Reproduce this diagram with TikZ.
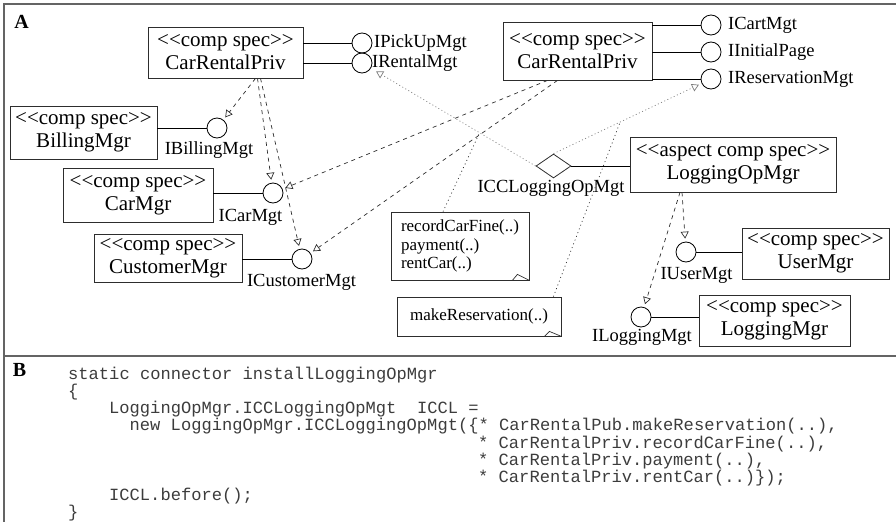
\documentclass[tikz,border=0pt]{standalone}
\usepackage{fontspec}
\setmainfont{Liberation Serif}
\setmonofont{Liberation Mono}
\usetikzlibrary{arrows.meta,shapes.geometric,calc}
\definecolor{umledge}{RGB}{45,45,45}
\definecolor{umlframe}{RGB}{100,100,100}
\definecolor{umlweave}{RGB}{125,125,125}
\definecolor{umlcode}{RGB}{60,60,60}
\tikzset{
  comp/.style={
    draw=umledge, line width=0.8pt, align=center, inner sep=3pt,
    font=\fontsize{21}{23}\selectfont
  },
  iface/.style={circle, draw=black, line width=0.8pt, minimum size=20pt, inner sep=0pt},
  ifname/.style={inner sep=1pt, font=\fontsize{18.5}{20}\selectfont},
  notebox/.style={
    draw=umledge, line width=0.8pt, align=left, inner sep=3pt,
    font=\fontsize{17}{18.5}\selectfont
  },
  wedge/.style={draw=umledge, line width=0.7pt},
  conn/.style={draw=black, line width=0.8pt},
  dep/.style={-{Triangle[open,length=7pt,width=8pt]}, draw=umledge, line width=0.7pt,
    dash pattern=on 4pt off 4pt, shorten >=3pt},
  weave/.style={-{Triangle[open,length=7pt,width=8pt]}, draw=umlweave, line width=0.7pt,
    dash pattern=on 1pt off 2.5pt},
  tieline/.style={draw=umledge, line width=0.7pt, dash pattern=on 1pt off 3pt},
  panel/.style={draw=umlframe, line width=1.5pt},
  tag/.style={inner sep=0pt, font=\fontsize{20}{22}\selectfont\bfseries},
  code/.style={anchor=base west, inner sep=0pt, text=umlcode,
    font=\fontsize{17.1}{19}\selectfont\ttfamily}
}

\begin{document}
\begin{tikzpicture}[x=1pt,y=-1pt]
  \useasboundingbox (0,0) rectangle (896,522);

  % panel frame
  \draw[panel] (896,4) -- (4,4) -- (4,522);
  \draw[panel] (4,356) -- (896,356);
  \node[tag] (tagA) at (21.5,21.5) {A};
  \node[tag] (tagB) at (19.5,370) {B};

  % components
  \node[comp, minimum width=155pt, minimum height=51pt] (crp1) at (225.5,52.5) {<{}<comp spec>{}>\\CarRentalPriv};
  \node[comp, minimum width=147pt, minimum height=53pt] (billing) at (83.5,132.5) {<{}<comp spec>{}>\\BillingMgr};
  \node[comp, minimum width=150pt, minimum height=54pt] (carmgr) at (138,195) {<{}<comp spec>{}>\\CarMgr};
  \node[comp, minimum width=148pt, minimum height=48pt] (custmgr) at (168,258) {<{}<comp spec>{}>\\CustomerMgr};
  \node[comp, minimum width=149pt, minimum height=58pt] (crp2) at (577.5,51) {<{}<comp spec>{}>\\CarRentalPriv};
  \node[comp, minimum width=206pt, minimum height=55pt] (logop) at (733,164.5) {<{}<aspect comp spec>{}>\\LoggingOpMgr};
  \node[comp, minimum width=147pt, minimum height=51pt] (usermgr) at (815.5,253.5) {<{}<comp spec>{}>\\UserMgr};
  \node[comp, minimum width=151pt, minimum height=51pt] (logmgr) at (774.5,320.5) {<{}<comp spec>{}>\\LoggingMgr};

  % interfaces
  \node[iface] (ipick) at (362,43) {};
  \node[iface] (irental) at (362,63) {};
  \node[iface] (ibill) at (217,128) {};
  \node[iface] (icar) at (273,193) {};
  \node[iface] (icust) at (302,259) {};
  \node[iface] (icart) at (711,25) {};
  \node[iface] (iinit) at (711,52) {};
  \node[iface] (ires) at (711,79) {};
  \node[iface] (iuser) at (686,252) {};
  \node[iface] (ilog) at (641,317) {};
  \node[diamond, draw=umledge, line width=0.8pt, minimum width=35pt, minimum height=24pt,
    inner sep=0pt] (icc) at (553.5,166) {};

  \node[ifname, anchor=west] (ipickname) at (373,43) {IPickUpMgt};
  \node[ifname, anchor=west] (irentalname) at (371,63) {IRentalMgt};
  \node[ifname] (ibillname) at (209,150) {IBillingMgt};
  \node[ifname] (icarname) at (250.5,217) {ICarMgt};
  \node[ifname] (icustname) at (301.5,282) {ICustomerMgt};
  \node[ifname, anchor=west] (icartname) at (727,25) {ICartMgt};
  \node[ifname, anchor=west] (iinitname) at (727,52) {IInitialPage};
  \node[ifname, anchor=west] (iresname) at (727,79) {IReservationMgt};
  \node[ifname] (iccname) at (551,188) {ICCLoggingOpMgt};
  \node[ifname] (iusername) at (696.5,275) {IUserMgt};
  \node[ifname] (ilogname) at (642,337) {ILoggingMgt};

  % notes
  \node[notebox, minimum width=138pt, minimum height=68pt] (note1) at (460,246)
    {recordCarFine(..)\\payment(..)\\rentCar(..)};
  \node[notebox, minimum width=164pt, minimum height=39pt] (note2) at (479,316.5)
    {makeReservation(..)};
  \draw[wedge] ($(note1.south east)+(-17,0)$) -- ($(note1.south east)+(-12,-6)$) -- (note1.south east);
  \draw[wedge] ($(note2.south east)+(-17,0)$) -- ($(note2.south east)+(-12,-5)$) -- (note2.south east);

  % provided interfaces
  \draw[conn] (crp1.east |- ipick) -- (ipick);
  \draw[conn] (crp1.east |- irental) -- (irental);
  \draw[conn] (billing.east |- ibill) -- (ibill);
  \draw[conn] (carmgr.east |- icar) -- (icar);
  \draw[conn] (custmgr.east |- icust) -- (icust);
  \draw[conn] (crp2.east |- icart) -- (icart);
  \draw[conn] (crp2.east |- iinit) -- (iinit);
  \draw[conn] (crp2.east |- ires) -- (ires);
  \draw[conn] (iuser) -- (usermgr.west |- iuser);
  \draw[conn] (ilog) -- (logmgr.west |- ilog);
  \draw[conn] (icc.east) -- (logop.west |- icc.east);

  % required interfaces
  \draw[dep] ([xshift=30pt]crp1.south) -- (ibill);
  \draw[dep] ([xshift=32pt]crp1.south) -- (icar);
  \draw[dep] ([xshift=35pt]crp1.south) -- (icust);
  \draw[dep] ([xshift=-30pt]crp2.south) -- (icar);
  \draw[dep] ([xshift=-20pt]crp2.south) -- (icust);
  \draw[dep] ([xshift=-51pt]logop.south) -- (iuser);
  \draw[dep] ([xshift=-53pt]logop.south) -- (ilog);

  % crosscut
  \draw[weave, shorten >=6pt] (icc.west) -- coordinate[pos=0.34] (at1) (irental);
  \draw[weave, shorten >=3pt] (icc.north) -- coordinate[pos=0.45] (at2) (ires);
  \draw[tieline] ([xshift=-17pt]note1.north) -- (at1);
  \draw[tieline] ([xshift=-8pt]note2.north east) -- (at2);

  % connector code
  \node[code] (c1) at (68,379) {static connector installLoggingOpMgr};
  \node[code] (c2) at (68,396.3) {\{};
  \node[code] (c3) at (109,413.6) {LoggingOpMgr.ICCLoggingOpMgt\ \ ICCL =};
  \node[code] (c4) at (129.5,430.9) {new LoggingOpMgr.ICCLoggingOpMgt(\{* CarRentalPub.makeReservation(..),};
  \node[code] (c5) at (478,448.2) {* CarRentalPriv.recordCarFine(..),};
  \node[code] (c6) at (478,465.5) {* CarRentalPriv.payment(..),};
  \node[code] (c7) at (478,482.8) {* CarRentalPriv.rentCar(..)\});};
  \node[code] (c8) at (109,500.1) {ICCL.before();};
  \node[code] (c9) at (68,517.4) {\}};
\end{tikzpicture}
\end{document}
